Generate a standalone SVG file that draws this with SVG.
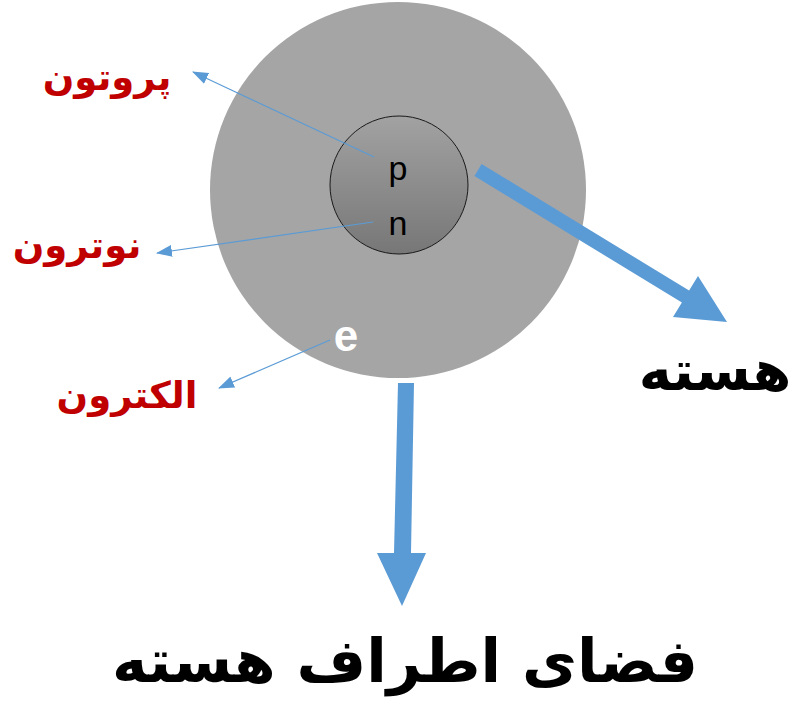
<svg xmlns="http://www.w3.org/2000/svg" width="792" height="706" viewBox="0 0 792 706">
<style>
.lbl{font-family:"DejaVu Sans",sans-serif;font-weight:bold;fill:#c00000;font-size:37px;text-anchor:middle}
.big{font-family:"DejaVu Sans",sans-serif;font-weight:bold;fill:#000;text-anchor:middle}
.thin{stroke:#5b9bd5;stroke-width:1.2;fill:none;marker-end:url(#ah)}
.thick{fill:#5b9bd5}
</style>
<defs>
<linearGradient id="ng" x1="0" y1="0" x2="0" y2="1">
<stop offset="0" stop-color="#a2a2a2"/>
<stop offset="1" stop-color="#777777"/>
</linearGradient>
<marker id="ah" markerUnits="userSpaceOnUse" markerWidth="16" markerHeight="12" refX="15" refY="6" orient="auto">
<path d="M0,0 L16,6 L0,12 Z" fill="#5b9bd5"/>
</marker>
</defs>
<g id="atom">
<circle cx="398" cy="190" r="188" fill="#a5a5a5"/>
</g>
<g id="nucleus">
<circle cx="399" cy="185" r="69" fill="url(#ng)" stroke="#1a1a1a" stroke-width="1"/>
<text x="398" y="180" font-family="Liberation Sans, sans-serif" font-size="34" text-anchor="middle" fill="#000">p</text>
<text x="398" y="235" font-family="Liberation Sans, sans-serif" font-size="34" text-anchor="middle" fill="#000">n</text>
</g>
<g id="electron">
<text x="346" y="351" font-family="Liberation Sans, sans-serif" font-weight="bold" font-size="44" text-anchor="middle" fill="#fff">e</text>
</g>
<g id="connectors">
<line class="thin" x1="374" y1="157" x2="193" y2="72"/>
<line class="thin" x1="373" y1="222" x2="157" y2="253"/>
<line class="thin" x1="330" y1="340" x2="219" y2="388"/>
<polygon class="thick" points="481.6,164 689.1,290.5 698,276 727,322 673,317 681.9,302.5 474.4,176"/>
<polygon class="thick" points="398,383 414,383 411,553 426,553 402,606 377,553 394,553"/>
</g>
<g id="label-proton"><text class="lbl" x="107" y="90">پروتون</text></g>
<g id="label-neutron"><text class="lbl" x="77" y="258">نوترون</text></g>
<g id="label-electron"><text class="lbl" x="127" y="408">الکترون</text></g>
<g id="label-nucleus"><text class="big" x="715" y="390" font-size="56">هسته</text></g>
<g id="label-space"><text class="big" x="405" y="682" font-size="60">فضای اطراف هسته</text></g>
</svg>
